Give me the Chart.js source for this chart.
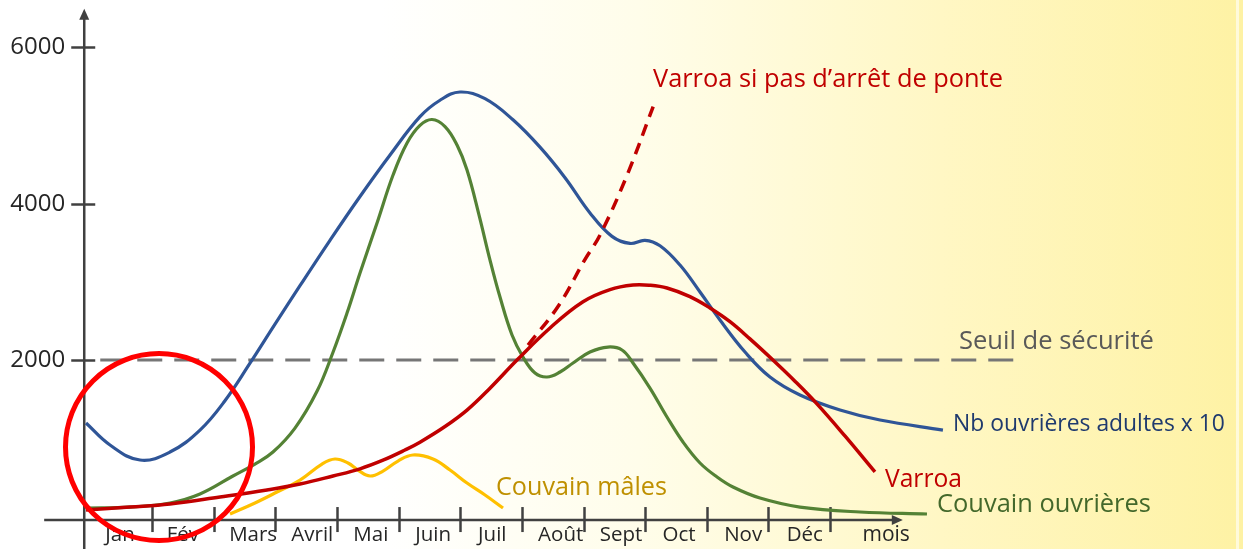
<!DOCTYPE html>
<html><head><meta charset="utf-8">
<script src="https://cdn.jsdelivr.net/npm/chart.js@4.4.1/dist/chart.umd.min.js"></script>
<style>html,body{margin:0;padding:0;background:#fff;overflow:hidden}#wrap{width:1243px;height:549px}</style>
</head><body><div id="wrap"><canvas id="c" width="1243" height="549"></canvas></div>
<script>
// ---- data (month units: month k spans [k-1, k]; y in numbers) ----
const months = ['Jan','Fév','Mars','Avril','Mai','Juin','Juil','Août','Sept','Oct','Nov','Déc'];
const monthLabelPos = [0.48,1.50,2.64,3.60,4.55,5.56,6.52,7.63,8.61,9.55,10.59,11.59];
const unitLabel = 'mois';
const unitLabelPos = 12.91;
const monthBoundaries = [1,2,3,4,5,6,7,8,9,10,11,12];
const yTickValues = [2000,4000,6000];
const thresholdX = [0.16, 15.0];
const thresholdY = [2000, 2000];

const adultsX = [-0.071,0.318,0.805,1.291,1.778,2.183,2.589,2.995,3.400,3.887,4.374,4.861,5.347,5.672,5.996,6.402,6.856,7.294,7.700,8.105,8.462,8.754,8.998,9.241,9.565,9.890,10.214,10.620,11.025,11.512,12.161,12.810,13.831];
const adultsY = [1195,914,722,824,1105,1480,1960,2460,2950,3530,4090,4620,5110,5320,5425,5340,5070,4720,4330,3880,3580,3490,3530,3460,3214,2869,2511,2102,1783,1553,1361,1233,1105];

const broodX = [-0.071,0.643,1.291,1.778,2.313,2.670,2.962,3.319,3.676,3.936,4.163,4.374,4.650,4.910,5.137,5.347,5.542,5.753,5.948,6.110,6.305,6.483,6.645,6.840,7.018,7.213,7.408,7.619,7.830,8.105,8.397,8.624,8.803,9.078,9.354,9.614,9.890,10.166,10.425,10.863,11.512,12.486,13.572];
const broodY = [109,121,173,288,518,671,824,1130,1600,2100,2600,3112,3751,4364,4773,4998,5074,4984,4748,4428,3853,3278,2805,2320,2038,1834,1783,1847,1962,2102,2166,2128,1962,1642,1272,952,684,505,377,236,121,58,32];

const varroaX = [-0.071,0.643,1.291,2.103,2.865,3.400,3.936,4.374,4.747,5.104,5.347,5.753,6.110,6.483,6.921,7.457,7.992,8.430,8.803,9.078,9.354,9.727,10.052,10.376,10.700,11.073,11.430,11.787,12.241,12.728];
const varroaY = [83,121,160,249,339,415,518,610,720,850,950,1150,1360,1640,2000,2410,2745,2900,2958,2955,2920,2810,2665,2490,2270,2000,1730,1440,1030,570];

const varroaNoStopX = [7.10,7.60,8.02,8.27,8.70,9.13];
const varroaNoStopY = [2190,2700,3281,3601,4350,5239];

const droneX = [2.265,2.670,3.027,3.400,3.757,3.968,4.179,4.341,4.536,4.747,4.990,5.233,5.558,5.834,6.110,6.402,6.694];
const droneY = [32,173,313,466,671,735,684,594,518,581,709,786,735,594,428,275,109];

const circleCenterX = [1.113];
const circleCenterY = [888];

const zip = (xs, ys) => xs.map((x, i) => ({x, y: ys[i]}));

// ---- styling ----
const FONT = "'Open Sans', 'DejaVu Sans', sans-serif";
const notes = [
  {text:'Varroa si pas d\u2019arrêt de ponte', x:653, y:80, w:350, color:'#C00000'},
  {text:'Seuil de sécurité', x:959, y:342, w:195, color:'#595959'},
  {text:'Nb ouvrières adultes x 10', x:953, y:424, w:272, color:'#1F3A6E'},
  {text:'Varroa', x:885, y:480, w:77, color:'#C00000'},
  {text:'Couvain ouvrières', x:937, y:505, w:214, color:'#43682B'},
  {text:'Couvain mâles', x:496, y:488, w:171, color:'#BF9000'}
];

function fitSize(ctx, text, width) {
  ctx.font = '100px ' + FONT;
  return 100 * width / ctx.measureText(text).width;
}

const bgPlugin = {
  id: 'bg',
  beforeDraw(chart) {
    const {ctx, width, height} = chart;
    ctx.save();
    const g = ctx.createLinearGradient(380, 0, width, 0);
    g.addColorStop(0, '#FFFFFF');
    g.addColorStop(0.3, '#FFFDEA');
    g.addColorStop(0.65, '#FFF7C4');
    g.addColorStop(1, '#FEF2A4');
    ctx.fillStyle = g;
    ctx.fillRect(0, 0, width, height);
    ctx.fillStyle = 'rgba(255,255,255,0.6)';
    ctx.fillRect(1236, 0, 3, height);
    ctx.restore();
  }
};

const axesPlugin = {
  id: 'axes',
  beforeDatasetsDraw(chart) {
    const {ctx} = chart;
    const xs = chart.scales.x, ys = chart.scales.y;
    const ax = xs.getPixelForValue(-0.1);
    const ay = ys.getPixelForValue(-45);
    const xLeft = xs.getPixelForValue(-0.75);
    const xRight = xs.getPixelForValue(13.18);
    const yTop = ys.getPixelForValue(6490);
    ctx.save();
    ctx.strokeStyle = '#404040';
    ctx.fillStyle = '#404040';
    ctx.lineWidth = 2.5;
    // y axis
    ctx.beginPath();
    ctx.moveTo(ax, chart.height);
    ctx.lineTo(ax, yTop + 8);
    ctx.stroke();
    ctx.beginPath();
    ctx.moveTo(ax, yTop); ctx.lineTo(ax - 5, yTop + 11); ctx.lineTo(ax + 5, yTop + 11); ctx.closePath(); ctx.fill();
    // x axis
    ctx.beginPath();
    ctx.moveTo(xLeft, ay);
    ctx.lineTo(xRight - 8, ay);
    ctx.stroke();
    ctx.beginPath();
    ctx.moveTo(xRight, ay); ctx.lineTo(xRight - 11, ay - 5); ctx.lineTo(xRight - 11, ay + 5); ctx.closePath(); ctx.fill();
    // x ticks
    monthBoundaries.forEach(v => {
      const px = Math.round(xs.getPixelForValue(v)) + 0.5;
      ctx.beginPath(); ctx.moveTo(px, ay - 13); ctx.lineTo(px, ay + 12); ctx.stroke();
    });
    // y ticks + labels
    const ySize = fitSize(ctx, '6000', 55);
    ctx.font = ySize + 'px ' + FONT;
    ctx.textAlign = 'right';
    ctx.textBaseline = 'middle';
    yTickValues.forEach(v => {
      const py = Math.round(ys.getPixelForValue(v)) + 0.5;
      ctx.beginPath(); ctx.moveTo(ax - 13, py); ctx.lineTo(ax + 11, py); ctx.stroke();
      ctx.fillStyle = '#262626';
      ctx.fillText(String(v), ax - 19, py);
    });
    // month labels
    ctx.font = '20.5px ' + FONT;
    ctx.textAlign = 'center';
    ctx.fillStyle = '#262626';
    months.forEach((m, i) => ctx.fillText(m, xs.getPixelForValue(monthLabelPos[i]), ay + 15));
    ctx.font = '21px ' + FONT;
    ctx.fillText(unitLabel, xs.getPixelForValue(unitLabelPos), ay + 15);
    ctx.restore();
  }
};

const notesPlugin = {
  id: 'notes',
  afterDatasetsDraw(chart) {
    const {ctx} = chart;
    ctx.save();
    ctx.textAlign = 'left';
    ctx.textBaseline = 'middle';
    notes.forEach(n => {
      ctx.font = fitSize(ctx, n.text, n.w) + 'px ' + FONT;
      ctx.fillStyle = n.color;
      ctx.fillText(n.text, n.x, n.y);
    });
    ctx.restore();
  }
};

const lineDefaults = {pointRadius: 0, pointHoverRadius: 0, fill: false, tension: 0.4, borderCapStyle: 'butt', borderJoinStyle: 'round'};

new Chart(document.getElementById('c'), {
  type: 'line',
  data: {
    datasets: [
      Object.assign({label: 'Anomalie', type: 'bubble', data: circleCenterX.map((x, i) => ({x, y: circleCenterY[i], r: 93.5})),
        backgroundColor: 'rgba(0,0,0,0)', borderColor: '#FF0000', borderWidth: 5, hoverRadius: 0, order: 0, clip: false}),
      Object.assign({}, lineDefaults, {label: 'Varroa si pas d\u2019arrêt de ponte', data: zip(varroaNoStopX, varroaNoStopY),
        borderColor: '#C00000', borderWidth: 3.5, borderDash: [12, 8], order: 2}),
      Object.assign({}, lineDefaults, {label: 'Couvain mâles', data: zip(droneX, droneY), borderColor: '#FFC000', borderWidth: 3.2, order: 5}),
      Object.assign({}, lineDefaults, {label: 'Couvain ouvrières', data: zip(broodX, broodY), borderColor: '#548235', borderWidth: 3.2, order: 4}),
      Object.assign({}, lineDefaults, {label: 'Nb ouvrières adultes x 10', data: zip(adultsX, adultsY), borderColor: '#2F5597', borderWidth: 3.2, order: 3}),
      Object.assign({}, lineDefaults, {label: 'Varroa', data: zip(varroaX, varroaY), borderColor: '#C00000', borderWidth: 3.5, order: 1}),
      Object.assign({}, lineDefaults, {label: 'Seuil de sécurité', data: zip(thresholdX, thresholdY), borderColor: '#767676',
        borderWidth: 3, borderDash: [25, 12], tension: 0, order: 10})
    ]
  },
  options: {
    responsive: false,
    animation: false,
    devicePixelRatio: 1,
    layout: {padding: 0, autoPadding: false},
    events: [],
    plugins: {legend: {display: false}, tooltip: {enabled: false}},
    scales: {
      x: {type: 'linear', min: -1.4666, max: 18.699, display: false},
      y: {type: 'linear', min: -415, max: 6601, display: false}
    }
  },
  plugins: [bgPlugin, axesPlugin, notesPlugin]
});
</script>
</body></html>
